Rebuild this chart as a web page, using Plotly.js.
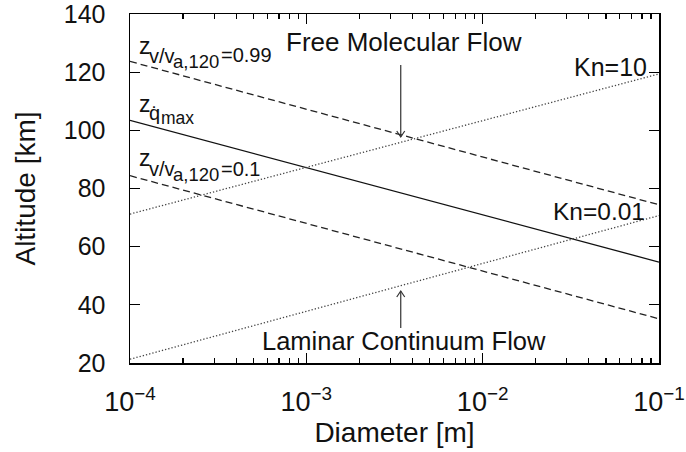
<!DOCTYPE html>
<html>
<head>
<meta charset="utf-8">
<script src="https://cdn.plot.ly/plotly-3.0.1.min.js"></script>
<style>html,body{margin:0;padding:0;background:#fff;}#chart{width:686px;height:452px;}</style>
</head>
<body>
<div id="chart"></div>
<script>
// ---- data ----
const diameter = [1e-4, 1e-1];          // m
const zV099   = [123.7, 74.4];          // z_{v/v_a,120}=0.99  (km)
const zQmax   = [103.4, 54.7];          // z_{qdot max}
const zV01    = [84.4, 35.2];           // z_{v/v_a,120}=0.1
const kn10    = [71.2, 119.4];          // Kn=10
const kn001   = [21.3, 70.7];           // Kn=0.01

const xTickVals = [1e-4, 1e-3, 1e-2, 1e-1];
const xTickText = ['10<sup>−4</sup>', '10<sup>−3</sup>', '10<sup>−2</sup>', '10<sup>−1</sup>'];
const yTickVals = [20, 40, 60, 80, 100, 120, 140];
const yTickText = ['20', '40', '60', '80', '100', '120', '140'];
const xMinorVals = [];
for (let d = -4; d < -1; d++) for (let m = 2; m <= 9; m++) xMinorVals.push(m * Math.pow(10, d));

// ---- layout geometry (pixels) ----
const W = 686, H = 452;
const L = 130, R = 659.5, T = 14, B = 363;
const px = x => (x - L) / (R - L);
const py = y => (B - y) / (B - T);
const FONT = 'Liberation Sans, Arial, Helvetica, sans-serif';

function txt(text, x, baseline, size, anchor) {
  return {
    text: text, xref: 'paper', yref: 'paper',
    x: px(x), y: py(baseline - 0.3465 * size),
    xanchor: anchor || 'left', yanchor: 'middle',
    showarrow: false, borderpad: 0,
    font: {family: FONT, size: size, color: '#111'}
  };
}

const annotations = [
  // z_{v/v_{a,120}}=0.99
  txt('z', 138, 54, 23),
  txt('v/v', 148, 63, 20),
  txt('a,120', 172, 68, 18.5),
  txt('=0.99', 220, 62, 20),
  // z_{q max}
  txt('z', 138, 112, 23),
  txt('q\u0307', 148, 120, 20),
  txt('max', 160, 124, 17.5),
  // z_{v/v_{a,120}}=0.1
  txt('z', 138, 166, 23),
  txt('v/v', 148, 176, 20),
  txt('a,120', 172, 181, 18.5),
  txt('=0.1', 220, 176, 20),
  // regimes
  txt('Free Molecular Flow', 404, 51.5, 26, 'center'),
  txt('Laminar Continuum Flow', 404, 350, 25.5, 'center'),
  txt('Kn=10', 648, 76, 25, 'right'),
  txt('Kn=0.01', 646, 220, 24.5, 'right')
];

const arrowColor = '#333';
const shapes = [
  {type: 'line', xref: 'paper', yref: 'paper', x0: px(401), x1: px(401), y0: py(65), y1: py(137),
   line: {color: arrowColor, width: 1.2}},
  {type: 'path', xref: 'paper', yref: 'paper',
   path: `M ${px(397)},${py(131)} L ${px(401)},${py(137)} L ${px(405)},${py(131)}`,
   line: {color: arrowColor, width: 1.2}},
  {type: 'line', xref: 'paper', yref: 'paper', x0: px(401), x1: px(401), y0: py(328), y1: py(291),
   line: {color: arrowColor, width: 1.2}},
  {type: 'path', xref: 'paper', yref: 'paper',
   path: `M ${px(397)},${py(297)} L ${px(401)},${py(291)} L ${px(405)},${py(297)}`,
   line: {color: arrowColor, width: 1.2}}
];

const dashed = {color: '#222', width: 1.3, dash: '7px,4px'};
const dotted = {color: '#444', width: 1.3, dash: '1.3px,2px'};

const traces = [
  {x: diameter, y: zV099, mode: 'lines', line: dashed, name: 'z v/va,120=0.99'},
  {x: diameter, y: zQmax, mode: 'lines', line: {color: '#111', width: 1.3}, name: 'z qmax'},
  {x: diameter, y: zV01, mode: 'lines', line: dashed, name: 'z v/va,120=0.1'},
  {x: diameter, y: kn10, mode: 'lines', line: dotted, name: 'Kn=10'},
  {x: diameter, y: kn001, mode: 'lines', line: dotted, name: 'Kn=0.01'}
];

const layout = {
  width: W, height: H,
  margin: {l: L, r: W - R, t: T, b: H - B, pad: 0},
  paper_bgcolor: '#fff', plot_bgcolor: '#fff',
  showlegend: false,
  font: {family: FONT, color: '#111'},
  xaxis: {
    type: 'log', range: [-4, -1],
    tickmode: 'array', tickvals: xTickVals, ticktext: xTickText,
    ticks: 'inside', ticklen: 10, tickwidth: 1.3, tickcolor: '#000',
    minor: {tickmode: 'array', tickvals: xMinorVals, ticks: 'inside', ticklen: 5, tickwidth: 1.2, tickcolor: '#000', showgrid: false},
    showline: true, linecolor: '#000', linewidth: 1.5, mirror: 'ticks',
    showgrid: false, zeroline: false,
    tickfont: {family: FONT, size: 27, color: '#111'},
    ticklabelstandoff: 14, ticklabeloverflow: 'allow',
    title: {text: 'Diameter [m]', font: {family: FONT, size: 28, color: '#111'}, standoff: 4},
    automargin: false
  },
  yaxis: {
    range: [20, 140],
    tickmode: 'array', tickvals: yTickVals, ticktext: yTickText,
    ticks: 'inside', ticklen: 10, tickwidth: 1.3, tickcolor: '#000',
    showline: true, linecolor: '#000', linewidth: 1.5, mirror: 'ticks',
    showgrid: false, zeroline: false,
    tickfont: {family: FONT, size: 25, color: '#111'},
    ticklabelstandoff: 18, ticklabeloverflow: 'allow',
    title: {text: 'Altitude [km]', font: {family: FONT, size: 28, color: '#111'}, standoff: 20},
    automargin: false
  },
  annotations: annotations,
  shapes: shapes
};

Plotly.newPlot('chart', traces, layout, {displayModeBar: false, staticPlot: true});
</script>
</body>
</html>
